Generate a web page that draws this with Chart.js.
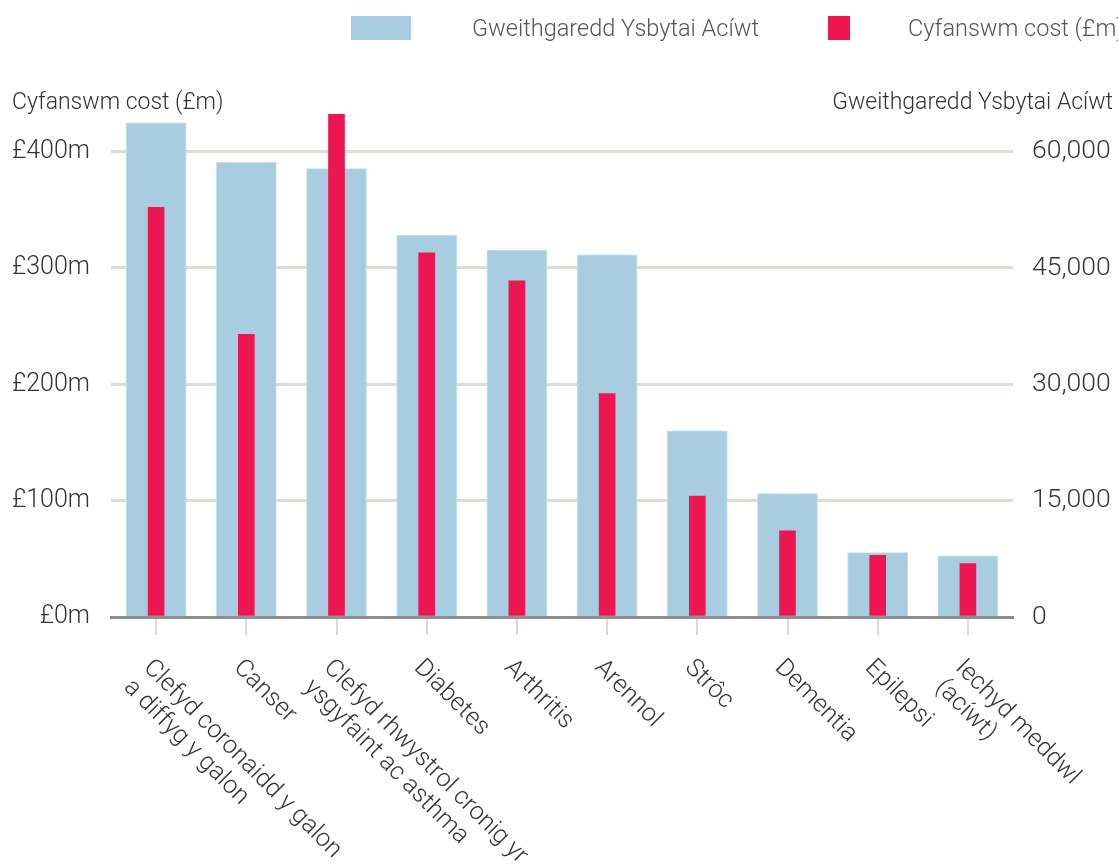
<!DOCTYPE html>
<html>
<head>
<meta charset="utf-8">
<script src="https://cdn.jsdelivr.net/npm/chart.js@4/dist/chart.umd.min.js"></script>
<style>
  body { margin: 0; background: #fff; }
</style>
</head>
<body>
<canvas id="myChart" width="1118" height="866"></canvas>
<script>
// categorïau (llinellau ar wahân ar gyfer labeli hir)
var categories = [
    ["Clefyd coronaidd y galon", "a diffyg y galon"],
    ["Canser"],
    ["Clefyd rhwystrol cronig yr", "ysgyfaint ac asthma"],
    ["Diabetes"],
    ["Arthritis"],
    ["Arennol"],
    ["Strôc"],
    ["Dementia"],
    ["Epilepsi"],
    ["Iechyd meddwl", "(acíwt)"]
];
var activity = [63700, 58600, 57800, 49200, 47300, 46700, 24000, 15900, 8300, 7900];
var cost = [352, 243, 432, 313, 289, 192, 104, 74, 53, 46];
var costTicks = [0, 100, 200, 300, 400];
var activityTicks = [0, 15000, 30000, 45000, 60000];

var blue = "#a8cde0";
var red = "#ee1651";
var textColor = "#333333";

var extras = {
    id: "extras",
    afterDraw: function (chart) {
        var c = chart.ctx;
        var x = chart.scales.x;
        c.save();

        // allwedd
        c.fillStyle = blue;
        c.fillRect(351, 16, 60, 24);
        c.fillStyle = red;
        c.fillRect(828, 16, 22, 24);
        c.font = "300 23.5px Roboto";
        c.fillStyle = "#555555";
        c.textBaseline = "middle";
        c.textAlign = "left";
        c.fillText("Gweithgaredd Ysbytai Acíwt", 472, 30);
        c.fillText("Cyfanswm cost (£m)", 908, 30);

        // teitlau'r echelinau
        c.fillStyle = textColor;
        c.font = "300 23px Roboto";
        c.fillText("Cyfanswm cost (£m)", 12, 103);
        c.textAlign = "right";
        c.fillText("Gweithgaredd Ysbytai Acíwt", 1113, 103);

        // labeli'r categorïau, ar ongl
        c.font = "300 25px Roboto";
        c.textAlign = "left";
        for (var i = 0; i < categories.length; i++) {
            var px = x.getPixelForValue(i);
            c.save();
            c.translate(px - 9, 664);
            c.rotate(Math.PI / 4);
            for (var j = 0; j < categories[i].length; j++) {
                c.fillText(categories[i][j], 0, j * 28);
            }
            c.restore();
        }
        c.restore();
    }
};

var ctx = document.getElementById("myChart").getContext("2d");

var myChart = new Chart(ctx, {
    type: "bar",
    data: {
        labels: categories.map(function (l) { return l.join(" "); }),
        datasets: [
            {
                label: "Gweithgaredd Ysbytai Acíwt",
                data: activity,
                yAxisID: "y1",
                backgroundColor: blue,
                borderColor: "#c3dfec",
                borderWidth: 1,
                barThickness: 60,
                grouped: false,
                order: 2,
            },
            {
                label: "Cyfanswm cost (£m)",
                data: cost,
                yAxisID: "y",
                backgroundColor: red,
                barThickness: 16,
                grouped: false,
                order: 1,
            },
        ],
    },
    options: {
        responsive: false,
        animation: false,
        layout: { padding: { top: 105, left: 0, right: 0, bottom: 0 } },
        plugins: {
            legend: { display: false },
            tooltip: { enabled: false },
        },
        scales: {
            x: {
                offset: true,
                grid: {
                    display: true,
                    offset: false,
                    drawOnChartArea: false,
                    drawTicks: true,
                    tickLength: 18,
                    color: "#dcd9d0",
                    lineWidth: 2,
                },
                border: { display: true, color: "#8e8e8e", width: 3, z: 1 },
                ticks: { display: false },
                afterFit: function (s) { s.height = 249; },
            },
            y: {
                position: "left",
                min: 0,
                max: 440,
                afterBuildTicks: function (s) {
                    s.ticks = costTicks.map(function (v) { return { value: v }; });
                },
                grid: {
                    drawTicks: false,
                    lineWidth: 3,
                    color: function (c) {
                        return c.tick && c.tick.value === 0 ? "#8e8e8e" : "#dedbd3";
                    },
                },
                border: { display: false },
                ticks: {
                    padding: 21,
                    color: textColor,
                    font: { family: "Roboto", weight: "300", size: 25 },
                    callback: function (v) { return "£" + v + "m"; },
                },
                afterFit: function (s) { s.width = 111; },
            },
            y1: {
                position: "right",
                min: 0,
                max: 66000,
                afterBuildTicks: function (s) {
                    s.ticks = activityTicks.map(function (v) { return { value: v }; });
                },
                grid: { display: false, drawTicks: false },
                border: { display: false },
                ticks: {
                    padding: 19,
                    color: textColor,
                    font: { family: "Roboto", weight: "300", size: 26.5 },
                    callback: function (v) { return v.toLocaleString("en-US"); },
                },
                afterFit: function (s) { s.width = 105; },
            },
        },
    },
    plugins: [extras],
});
</script>
</body>
</html>
